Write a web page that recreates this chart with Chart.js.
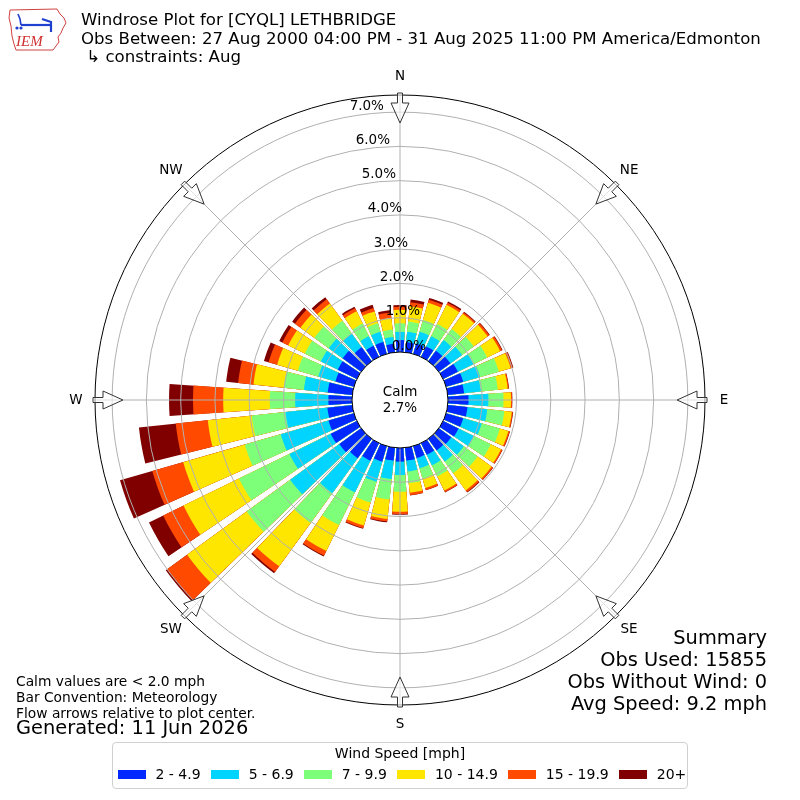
<!DOCTYPE html>
<html>
<head>
<meta charset="utf-8">
<title>Windrose Plot for [CYQL] LETHBRIDGE</title>
<script src="https://cdn.jsdelivr.net/npm/chart.js@4.4.1/dist/chart.umd.min.js"></script>
<style>
  body { margin: 0; background: #fff; font-family: "DejaVu Sans", sans-serif; }
  #wrap { position: relative; width: 800px; height: 800px; overflow: hidden; }
  #rose { position: absolute; left: 0; top: 0; }
  .txt { position: absolute; color: #000; white-space: nowrap; }
  #title { left: 81px; top: 11px; font-size: 16.6px; line-height: 18.5px; }
  #notes { left: 16px; top: 673px; font-size: 13.8px; line-height: 16px; }
  #generated { left: 16px; top: 719px; font-size: 19.4px; line-height: 18px; }
  #summary { right: 33px; top: 627px; font-size: 19.4px; line-height: 22px; text-align: right; }
  #legend { position: absolute; left: 112px; top: 742px; width: 574px; height: 45px;
            border: 1px solid #d0d0d0; border-radius: 4px; font-size: 14px; white-space: nowrap; }
  #legend .ttl { text-align: center; margin-top: 2px; line-height: 16px; }
  #legend .row { display: flex; margin-top: 5px; padding-left: 5px; line-height: 16px; }
  #legend .item { display: flex; align-items: center; margin-right: 10.5px; flex-shrink: 0; }
  #legend .sw { width: 28px; height: 9px; margin-right: 9.5px; flex-shrink: 0; }
  #logo { position: absolute; left: 7px; top: 6px; }
</style>
</head>
<body>
<div id="wrap">
  <canvas id="rose" width="800" height="800"></canvas>

  <svg id="logo" width="62" height="46" viewBox="0 0 62 46">
    <path d="M3,4 L50,3 L53,8 L57,12 L59,17 L56,22 L54,27 L51,31 L52,36 L49,40 L46,44 L9,44 L7,38 L5,30 L4,20 L2,12 Z"
          fill="#fff" stroke="#d04040" stroke-width="1"/>
    <path d="M14,19 L44,19" stroke="#1f3fd0" stroke-width="2.2"/>
    <path d="M11,8 L13,13 L14,19" stroke="#1f3fd0" stroke-width="1.6" fill="none"/>
    <path d="M35,13 L44,16 L44,26" stroke="#1f3fd0" stroke-width="2.2" fill="none"/>
    <circle cx="10" cy="22" r="1.6" fill="#1f3fd0"/>
    <circle cx="14" cy="22" r="1.6" fill="#1f3fd0"/>
    <text x="9" y="40" font-family="Liberation Serif" font-style="italic" font-size="15" fill="#d03030">IEM</text>
  </svg>

  <div id="title" class="txt">Windrose Plot for [CYQL] LETHBRIDGE<br>Obs Between: 27 Aug 2000 04:00 PM - 31 Aug 2025 11:00 PM America/Edmonton<br>&nbsp;↳ constraints: Aug</div>
  <div id="notes" class="txt">Calm values are &lt; 2.0 mph<br>Bar Convention: Meteorology<br>Flow arrows relative to plot center.</div>
  <div id="generated" class="txt">Generated: 11 Jun 2026</div>
  <div id="summary" class="txt">Summary<br>Obs Used: 15855<br>Obs Without Wind: 0<br>Avg Speed: 9.2 mph</div>
  <div id="legend"><div class="ttl">Wind Speed [mph]</div><div class="row" id="legendRow"></div></div>
</div>

<script>
// direction bins (degrees, meteorological, every 10)
const directions = [0, 10, 20, 30, 40, 50, 60, 70, 80, 90, 100, 110, 120, 130, 140, 150, 160, 170,
                    180, 190, 200, 210, 220, 230, 240, 250, 260, 270, 280, 290, 300, 310, 320, 330, 340, 350];

// percent of observations per direction, one array per speed bin
const spd2to5   = [0.35, 0.30, 0.31, 0.34, 0.38, 0.42, 0.48, 0.52, 0.48, 0.60, 0.58, 0.52, 0.50, 0.45, 0.42, 0.38, 0.36, 0.38,
                   0.40, 0.38, 0.47, 0.57, 0.70, 0.79, 0.85, 0.77, 0.73, 0.69, 0.72, 0.56, 0.62, 0.67, 0.50, 0.36, 0.36, 0.25];
const spd5to7   = [0.24, 0.30, 0.36, 0.33, 0.38, 0.42, 0.50, 0.51, 0.49, 0.58, 0.58, 0.56, 0.50, 0.45, 0.40, 0.34, 0.31, 0.32,
                   0.39, 0.54, 0.61, 1.03, 1.26, 1.77, 1.34, 1.45, 1.23, 0.97, 0.70, 0.52, 0.55, 0.50, 0.49, 0.31, 0.31, 0.20];
const spd7to10  = [0.25, 0.30, 0.36, 0.40, 0.40, 0.42, 0.45, 0.57, 0.50, 0.44, 0.50, 0.55, 0.55, 0.50, 0.42, 0.36, 0.31, 0.34,
                   0.49, 0.60, 0.63, 1.06, 1.08, 1.57, 1.64, 1.09, 0.99, 0.74, 0.59, 0.62, 0.52, 0.52, 0.47, 0.41, 0.26, 0.22];
const spd10to15 = [0.39, 0.45, 0.52, 0.62, 0.55, 0.50, 0.42, 0.36, 0.29, 0.22, 0.22, 0.26, 0.33, 0.50, 0.62, 0.46, 0.29, 0.28,
                   0.58, 0.57, 0.70, 0.84, 1.56, 2.15, 1.80, 1.87, 1.29, 1.36, 0.89, 0.63, 0.54, 0.50, 0.62, 0.40, 0.36, 0.34];
const spd15to20 = [0.09, 0.12, 0.09, 0.07, 0.05, 0.06, 0.06, 0.06, 0.03, 0.03, 0.03, 0.04, 0.04, 0.05, 0.06, 0.05, 0.06, 0.07,
                   0.07, 0.07, 0.08, 0.15, 0.20, 0.72, 0.66, 0.94, 0.94, 0.88, 0.45, 0.26, 0.19, 0.20, 0.15, 0.10, 0.10, 0.16];
const spd20up   = [0.05, 0.08, 0.06, 0.04, 0.02, 0.02, 0.02, 0.02, 0.01, 0.01, 0.01, 0.01, 0.01, 0.01, 0.02, 0.01, 0.01, 0.01,
                   0.02, 0.03, 0.02, 0.03, 0.05, 0.05, 0.46, 0.98, 1.08, 0.70, 0.35, 0.14, 0.10, 0.10, 0.08, 0.05, 0.10, 0.07];

const speedSeries = [spd2to5, spd5to7, spd7to10, spd10to15, spd15to20, spd20up];
const speedLabels = ['2 - 4.9', '5 - 6.9', '7 - 9.9', '10 - 14.9', '15 - 19.9', '20+'];
const speedColors = ['#0028ff', '#00d4ff', '#7dff7a', '#ffe600', '#ff4a00', '#800000'];

const calmPct = 2.7;
const rTicks = [0, 1, 2, 3, 4, 5, 6, 7];
const rMin = -1.4;   // leaves room for the calm circle
const rMax = 7.5;
const compass = ['N', 'NE', 'E', 'SE', 'S', 'SW', 'W', 'NW'];

// legend
const row = document.getElementById('legendRow');
speedLabels.forEach((lab, i) => {
  const it = document.createElement('div');
  it.className = 'item';
  it.innerHTML = '<span class="sw" style="background:' + speedColors[i] + '"></span>' + lab;
  row.appendChild(it);
});

// each direction becomes a bar slot + a narrow empty slot (gap)
const labels = [];
directions.forEach(d => { labels.push(d + '°'); labels.push(''); });

let running = directions.map(() => 0);
const datasets = speedSeries.map((vals, k) => {
  running = running.map((v, i) => v + vals[i]);
  const data = [];
  running.forEach(v => { data.push(+v.toFixed(3)); data.push(null); });
  return {
    label: speedLabels[k],
    data: data,
    backgroundColor: speedColors[k],
    borderWidth: 0,
    angle: ctx => (ctx.index % 2 ? 2 : 8)
  };
});

const roseDecor = {
  id: 'roseDecor',
  afterDatasetsDraw(chart) {
    const s = chart.scales.r, ctx = chart.ctx;
    const cx = s.xCenter, cy = s.yCenter;
    const r0 = s.getDistanceFromCenterForValue(0);
    const rOut = s.getDistanceFromCenterForValue(rMax);
    ctx.save();
    ctx.strokeStyle = '#b0b0b0';
    ctx.lineWidth = 1;
    compass.forEach((c, i) => {
      const t = i * 45 * Math.PI / 180;
      ctx.beginPath();
      ctx.moveTo(cx + r0 * Math.sin(t), cy - r0 * Math.cos(t));
      ctx.lineTo(cx + rOut * Math.sin(t), cy - rOut * Math.cos(t));
      ctx.stroke();
    });
    ctx.beginPath();
    ctx.arc(cx, cy, r0, 0, Math.PI * 2);
    ctx.fillStyle = '#fff';
    ctx.fill();
    ctx.fillStyle = '#000';
    ctx.font = '13.5px "DejaVu Sans"';
    ctx.textAlign = 'center';
    ctx.textBaseline = 'middle';
    ctx.fillText('Calm', cx, cy - 8);
    ctx.fillText(calmPct.toFixed(1) + '%', cx, cy + 8);
    ctx.restore();
  },
  afterDraw(chart) {
    const s = chart.scales.r, ctx = chart.ctx;
    const cx = s.xCenter, cy = s.yCenter;
    const r0 = s.getDistanceFromCenterForValue(0);
    const rOut = s.getDistanceFromCenterForValue(rMax);
    ctx.save();
    ctx.font = '13.5px "DejaVu Sans"';
    ctx.textAlign = 'center';
    ctx.textBaseline = 'middle';
    ctx.fillStyle = '#000';
    // radial tick labels
    rTicks.forEach(v => {
      const R = s.getDistanceFromCenterForValue(v);
      ctx.fillText(v.toFixed(1) + '%', cx + 9 - 0.176 * (R - r0), cy - R - 6);
    });
    // compass arrows and names
    compass.forEach((c, i) => {
      const t = i * 45 * Math.PI / 180;
      const sn = Math.sin(t), cs = Math.cos(t);
      const pt = (u, v) => [cx + u * sn + v * cs, cy - u * cs + v * sn];
      const shape = [[rOut + 2, -2.5], [rOut + 2, 2.5], [rOut - 8, 2.5], [rOut - 8, 9],
                     [rOut - 28, 0], [rOut - 8, -9], [rOut - 8, -2.5]];
      ctx.beginPath();
      shape.forEach((p, j) => {
        const q = pt(p[0], p[1]);
        if (j === 0) ctx.moveTo(q[0], q[1]); else ctx.lineTo(q[0], q[1]);
      });
      ctx.closePath();
      ctx.fillStyle = 'rgba(255,255,255,0.6)';
      ctx.fill();
      ctx.strokeStyle = '#333';
      ctx.lineWidth = 1;
      ctx.stroke();
      const lp = pt(rOut + 19, 0);
      ctx.fillStyle = '#000';
      ctx.fillText(c, lp[0], lp[1]);
    });
    ctx.restore();
  }
};

new Chart(document.getElementById('rose'), {
  type: 'polarArea',
  data: { labels: labels, datasets: datasets },
  options: {
    responsive: false,
    animation: false,
    events: [],
    layout: { padding: 95 },
    plugins: { legend: { display: false }, tooltip: { enabled: false } },
    scales: {
      r: {
        min: rMin,
        max: rMax,
        startAngle: -4,
        afterBuildTicks: scale => {
          scale.ticks = rTicks.concat([rMax]).map(v => ({ value: v }));
        },
        ticks: { display: false },
        pointLabels: { display: false },
        angleLines: { display: false },
        grid: {
          z: 1,
          circular: true,
          color: ctx => (ctx.tick && (ctx.tick.value === 0 || ctx.tick.value === rMax)) ? '#000' : '#b0b0b0',
          lineWidth: 1
        }
      }
    }
  },
  plugins: [roseDecor]
});
</script>
</body>
</html>
